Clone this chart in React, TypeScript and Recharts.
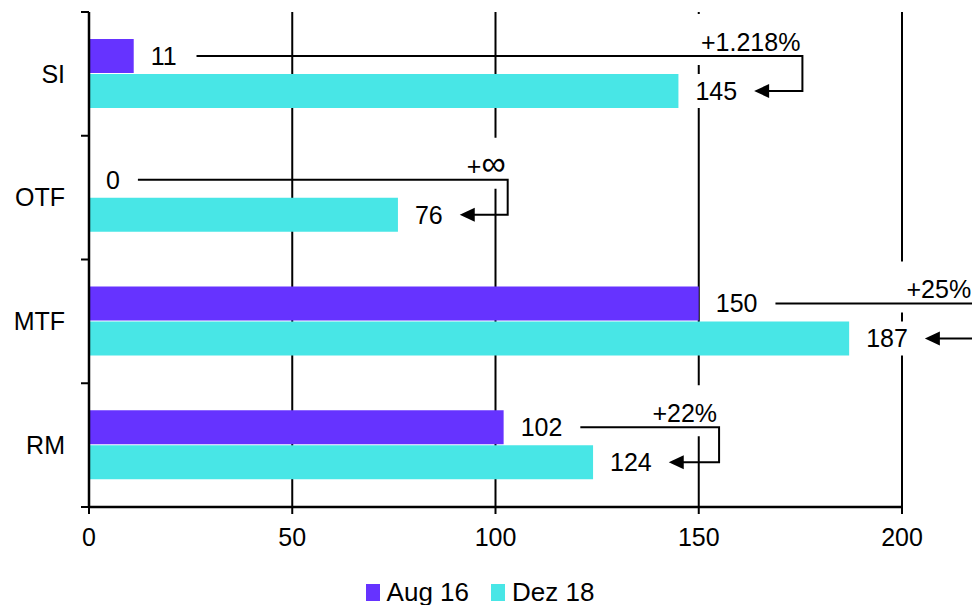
import { BarChart, Bar, XAxis, YAxis, CartesianGrid, Legend, LabelList } from 'recharts';

const categories = ['SI', 'OTF', 'MTF', 'RM'];
const aug16 = [11, 0, 150, 102];
const dez18 = [145, 76, 187, 124];
const changeLabels = ['+1.218%', '+∞', '+25%', '+22%'];
// x value where the change bracket turns down
const bracketAt = [175.5, 103, 217.5, 155];
const xTicks = [0, 50, 100, 150, 200];

const data = categories.map((name, i) => ({
  name,
  aug: aug16[i],
  dez: dez18[i],
  change: changeLabels[i],
  bracket: bracketAt[i],
}));

const PURPLE = '#6633ff';
const CYAN = '#48e6e6';
const FONT = '"Liberation Sans", Arial, sans-serif';
const FS = 25;
const INF_FS = 34;
const BAR = 34;
const GAP = 1;

const charW: Record<string, number> = { '+': 0.584, '.': 0.278, '%': 0.889 };
const textWidth = (s: string) =>
  s.split('').reduce((sum, c) => sum + (c === '∞' ? (0.713 * INF_FS) / FS : charW[c] ?? 0.556), 0) * FS;

const ValueText = ({ x, cy, s }: { x: number; cy: number; s: string }) => (
  <g>
    <rect x={x - 5} y={cy - 17} width={textWidth(s) + 10} height={34} fill="#fff" />
    <text x={x} y={cy} dy="0.35em" fontSize={FS} fontFamily={FONT} fill="#000">
      {s}
    </text>
  </g>
);

// draws both value labels, the change bracket with arrow and the change text
const PairLabel = (props: any) => {
  const { x, y, width, height, value } = props;
  const i = props.index ?? dez18.indexOf(value);
  const d = data[i];
  const ppu = width / value;
  const cy = y + height / 2;
  const augCy = y - GAP - height / 2;
  const augX = x + d.aug * ppu + 17;
  const lineStart = augX + textWidth(String(d.aug)) + 18;
  const bx = x + d.bracket * ppu;
  const tx = x + width + 17;
  const tipX = tx + textWidth(String(value)) + 17;
  const pw = textWidth(d.change);
  const parts = d.change.split('∞');
  return (
    <g>
      <rect x={bx - pw - 8} y={augCy - 42} width={pw + 8} height={51} fill="#fff" />
      <text x={bx - 2} y={augCy - 14} dy="0.35em" textAnchor="end" fontSize={FS} fontFamily={FONT} fill="#000">
        {parts[0]}
        {parts.length > 1 && <tspan fontSize={INF_FS}>∞</tspan>}
        {parts.length > 1 && parts[1]}
      </text>
      <ValueText x={augX} cy={augCy} s={String(d.aug)} />
      <ValueText x={tx} cy={cy} s={String(value)} />
      <path d={`M${lineStart},${augCy}H${bx}V${cy}H${tipX + 12}`} fill="none" stroke="#000" strokeWidth={2} />
      <polygon points={`${tipX},${cy} ${tipX + 15},${cy - 7} ${tipX + 15},${cy + 7}`} fill="#000" />
    </g>
  );
};

const CategoryTick = (props: any) => {
  const { x, y, payload, index } = props;
  const half = payload?.offset > 0 ? payload.offset : 495 / categories.length / 2;
  const ax = x + 24;
  return (
    <g>
      <line x1={ax - 8} x2={ax} y1={y - half} y2={y - half} stroke="#000" strokeWidth={2} />
      {index === categories.length - 1 && (
        <line x1={ax - 8} x2={ax} y1={y + half} y2={y + half} stroke="#000" strokeWidth={2} />
      )}
      <text x={x} y={y} dy="0.35em" textAnchor="end" fontSize={FS} fontFamily={FONT} fill="#000">
        {payload.value}
      </text>
    </g>
  );
};

const LegendContent = (props: any) => (
  <div
    style={{
      display: 'flex',
      justifyContent: 'center',
      alignItems: 'center',
      height: 26,
      fontFamily: FONT,
      fontSize: 26,
      color: '#000',
      gap: 22,
    }}
  >
    {(props.payload || []).map((p: any) => (
      <span key={p.value} style={{ display: 'flex', alignItems: 'center' }}>
        <span style={{ width: 14, height: 17, background: p.color, marginRight: 7 }} />
        {p.value}
      </span>
    ))}
  </div>
);

export default function App() {
  return (
    <div style={{ position: 'absolute', left: 0, top: 0, width: 972, height: 605, overflow: 'hidden', background: '#fff' }}>
      <BarChart
        width={972}
        height={605}
        data={data}
        layout="vertical"
        margin={{ top: 12, right: 70, left: 0, bottom: 0 }}
        barSize={BAR}
        barGap={GAP}
        style={{ fontFamily: FONT }}
      >
        <CartesianGrid horizontal={false} stroke="#000" strokeWidth={2} />
        <XAxis
          type="number"
          domain={[0, 200]}
          ticks={xTicks}
          interval={0}
          height={72}
          tickSize={7}
          tickMargin={14}
          axisLine={{ stroke: '#000', strokeWidth: 2.5 }}
          tickLine={{ stroke: '#000', strokeWidth: 2 }}
          tick={{ fill: '#000', fontSize: FS, fontFamily: FONT }}
        />
        <XAxis
          xAxisId="top"
          orientation="top"
          type="number"
          domain={[0, 200]}
          height={0}
          tick={false}
          tickLine={false}
          axisLine={{ stroke: '#000', strokeWidth: 2 }}
        />
        <YAxis
          type="category"
          dataKey="name"
          width={89}
          tickSize={8}
          tickMargin={16}
          tickLine={false}
          axisLine={{ stroke: '#000', strokeWidth: 2.5 }}
          tick={<CategoryTick />}
        />
        <Legend
          verticalAlign="bottom"
          height={26}
          wrapperStyle={{ left: 0, width: 960 }}
          content={<LegendContent />}
        />
        <Bar dataKey="aug" name="Aug 16" fill={PURPLE} isAnimationActive={false} />
        <Bar dataKey="dez" name="Dez 18" fill={CYAN} isAnimationActive={false}>
          <LabelList dataKey="dez" content={<PairLabel />} />
        </Bar>
      </BarChart>
    </div>
  );
}
